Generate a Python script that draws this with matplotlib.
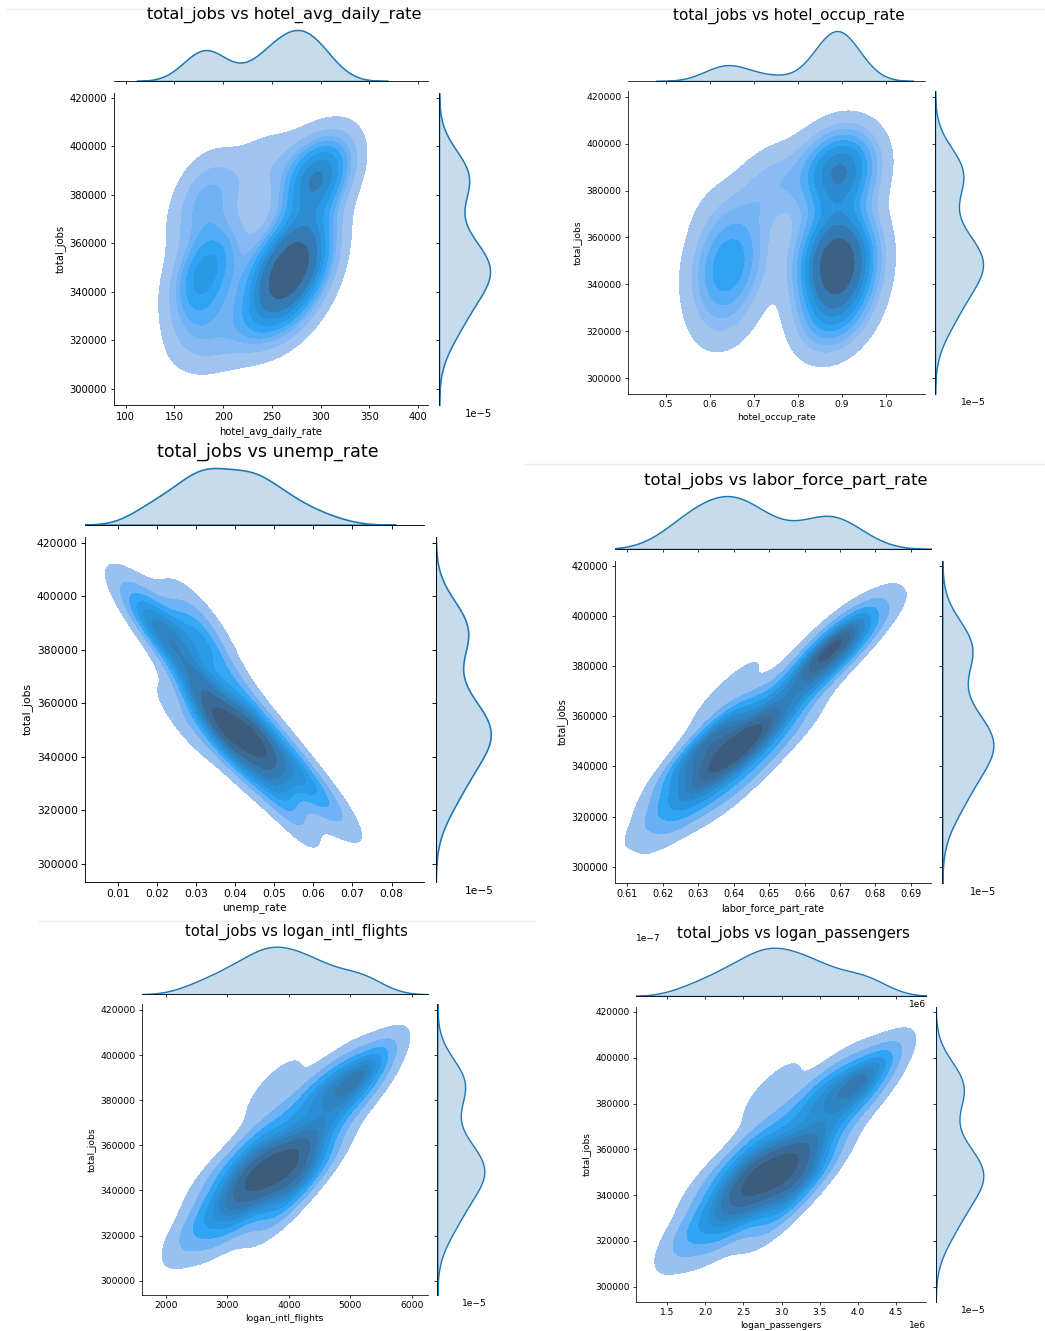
import numpy as np
import pandas as pd
import matplotlib.pyplot as plt
from matplotlib.lines import Line2D
import seaborn as sns

# ================= DATA =================

total_jobs = [320000, 323000, 326000, 329000, 332000, 335000, 337000, 339000, 341000,
              343000, 344000, 346000, 347000, 348000, 349000, 350000, 351000, 352000,
              353000, 354000, 356000, 358000, 360000, 363000, 366000, 370000, 378000,
              381000, 383000, 385000, 386000, 388000, 390000, 392000, 393000, 395000]

hotel_avg_daily_rate = [195, 172, 230, 260, 250, 175, 280, 240, 182,
                        265, 255, 174, 285, 260, 272, 178, 250, 278,
                        186, 288, 262, 270, 200, 292, 278, 172, 190,
                        296, 286, 302, 182, 294, 305, 282, 240, 308]

hotel_occup_rate = [0.87, 0.63, 0.86, 0.89, 0.91, 0.62, 0.89, 0.87, 0.66,
                    0.90, 0.88, 0.64, 0.92, 0.89, 0.87, 0.62, 0.90, 0.88,
                    0.65, 0.91, 0.86, 0.89, 0.67, 0.90, 0.88, 0.63, 0.73,
                    0.90, 0.87, 0.91, 0.75, 0.89, 0.92, 0.86, 0.90, 0.90]

unemp_rate = [0.053, 0.065, 0.059, 0.051, 0.058, 0.044, 0.048, 0.050, 0.038,
              0.054, 0.044, 0.046, 0.039, 0.048, 0.035, 0.041, 0.037, 0.043,
              0.027, 0.044, 0.034, 0.037, 0.030, 0.043, 0.031, 0.032, 0.024,
              0.033, 0.025, 0.028, 0.019, 0.030, 0.023, 0.032, 0.016, 0.018]

labor_force_part_rate = [0.625, 0.620, 0.633, 0.628, 0.642, 0.626, 0.633, 0.625, 0.641,
                         0.639, 0.634, 0.646, 0.631, 0.639, 0.645, 0.630, 0.655, 0.641,
                         0.645, 0.636, 0.653, 0.638, 0.649, 0.646, 0.657, 0.638, 0.668,
                         0.663, 0.667, 0.664, 0.672, 0.667, 0.669, 0.665, 0.677, 0.673]

logan_intl_flights = [2550, 3015, 2450, 3800, 3148, 3562, 3085, 4080, 2975,
                      3705, 3462, 4048, 2800, 4255, 3488, 3963, 3380, 4500,
                      3782, 3905, 3352, 4322, 3793, 4258, 3550, 4650, 4395,
                      5200, 4272, 4752, 3750, 5150, 5000, 4740, 5350, 5250]

logan_passengers = [1850000, 2250000, 1780000, 2900000, 2360000, 2710000, 2310000, 3150000, 2220000,
                    2840000, 2630000, 3130000, 2080000, 3300000, 2650000, 3050000, 2560000, 3500000,
                    2900000, 3000000, 2540000, 3360000, 2910000, 3300000, 2700000, 3640000, 3420000,
                    4100000, 3320000, 3720000, 2870000, 4050000, 3950000, 3710000, 4250000, 4150000]

df = pd.DataFrame({
    "total_jobs": total_jobs,
    "hotel_avg_daily_rate": hotel_avg_daily_rate,
    "hotel_occup_rate": hotel_occup_rate,
    "unemp_rate": unemp_rate,
    "labor_force_part_rate": labor_force_part_rate,
    "logan_intl_flights": logan_intl_flights,
    "logan_passengers": logan_passengers,
})

# ================= LAYOUT (pixels) =================

W, H = 1045, 1331
fig = plt.figure(figsize=(W / 100, H / 100), dpi=100)


def box(left, top, right, bottom):
    return [left / W, 1 - bottom / H, (right - left) / W, (bottom - top) / H]


panels = [
    {"col": "hotel_avg_daily_rate", "joint": (114, 93, 428, 405),
     "marg_x": (27.4, 81), "marg_y": (439, 492.6),
     "xlim": (88, 410), "ylim": (293400, 422000), "xticks": np.arange(100, 401, 50),
     "title": (284, 15, 11.7), "scale": 1.0},
    {"col": "hotel_occup_rate", "joint": (628, 91, 925, 394),
     "marg_x": (28.5, 81), "marg_y": (935, 985.4),
     "xlim": (0.4145, 1.0885), "ylim": (293300, 422400), "xticks": np.arange(0.5, 1.01, 0.1),
     "title": (788.5, 16, 11.0), "scale": 0.92},
    {"col": "unemp_rate", "joint": (85.3, 536.7, 424, 881.7),
     "marg_x": (465.2, 524.7), "marg_y": (435.7, 493.5),
     "xlim": (0.0017, 0.0883), "ylim": (293400, 422240), "xticks": np.arange(0.01, 0.081, 0.01),
     "title": (268, 452, 12.6), "scale": 1.065},
    {"col": "labor_force_part_rate", "joint": (615, 560.7, 930.7, 882.7),
     "marg_x": (493.4, 549), "marg_y": (942.3, 995.9),
     "xlim": (0.6065, 0.6956), "ylim": (293600, 422100), "xticks": np.arange(0.61, 0.6901, 0.01),
     "title": (785.8, 480.7, 11.76), "scale": 0.96},
    {"col": "logan_intl_flights", "joint": (141.7, 1004.3, 427.7, 1295),
     "marg_x": (944.3, 994.3), "marg_y": (437.3, 486.7),
     "xlim": (1604, 6260), "ylim": (293660, 422500), "xticks": np.arange(2000, 6001, 1000),
     "title": (296, 932.3, 10.6), "scale": 0.92},
    {"col": "logan_passengers", "joint": (636, 1006.7, 926, 1301.7),
     "marg_x": (945.3, 996), "marg_y": (935.7, 985.7),
     "xlim": (1.0887e6, 4.898e6), "ylim": (293450, 422300), "xticks": np.arange(1.5e6, 4.51e6, 0.5e6),
     "title": (793, 934, 10.76), "scale": 0.9},
]

BW_JOINT = 0.9
BW_MARG = 0.9

# ================= JOINT KDE PANELS =================

for p in panels:
    s = p["scale"]
    left, top, right, bottom = p["joint"]
    ax = fig.add_axes(box(left, top, right, bottom))
    ax_mx = fig.add_axes(box(left, p["marg_x"][0], right, p["marg_x"][1]), sharex=ax)
    ax_my = fig.add_axes(box(p["marg_y"][0], top, p["marg_y"][1], bottom), sharey=ax)

    sns.kdeplot(data=df, x=p["col"], y="total_jobs", fill=True, bw_adjust=BW_JOINT, ax=ax)
    sns.kdeplot(data=df, x=p["col"], fill=True, bw_adjust=BW_MARG, ax=ax_mx, linewidth=1.1 * s)
    sns.kdeplot(data=df, y="total_jobs", fill=True, bw_adjust=BW_MARG, ax=ax_my, linewidth=1.1 * s)

    ax.set_xlim(p["xlim"])
    ax.set_ylim(p["ylim"])
    ax.set_xticks(p["xticks"])
    ax.set_yticks(np.arange(300000, 420001, 20000))

    fs = 7.2 * s
    ax.set_xlabel(p["col"], fontsize=fs, labelpad=2.9 * s)
    ax.set_ylabel("total_jobs", fontsize=fs, labelpad=2.9 * s)
    ax_mx.set_xlabel("")
    ax_mx.set_ylabel("")
    ax_my.set_xlabel("")
    ax_my.set_ylabel("")

    for a in (ax, ax_mx, ax_my):
        a.tick_params(labelsize=fs, length=2.5 * s, width=0.6 * s, pad=2.5 * s)
        for sp in a.spines.values():
            sp.set_linewidth(0.6 * s)
        a.spines["top"].set_visible(False)
        a.spines["right"].set_visible(False)

    ax_mx.spines["left"].set_visible(False)
    ax_mx.tick_params(left=False, labelleft=False, labelbottom=False)
    ax_my.spines["bottom"].set_visible(False)
    ax_my.tick_params(bottom=False, labelbottom=False, labelleft=False)

    # keep the scale offsets of the density axes
    for t in (ax_mx.xaxis.get_offset_text(), ax_mx.yaxis.get_offset_text(),
              ax_my.xaxis.get_offset_text()):
        t.set_visible(True)
        t.set_fontsize(fs)
    ax.xaxis.get_offset_text().set_fontsize(fs)

    tx, ty, tsize = p["title"]
    fig.text(tx / W, 1 - ty / H, f"total_jobs vs {p['col']}", fontsize=tsize,
             ha="center", va="center")

# thin cell borders
for x0, x1, y in [(7, 525, 9), (525, 1045, 9), (525, 1045, 464), (39, 535, 921)]:
    fig.add_artist(Line2D([x0 / W, x1 / W], [1 - y / H, 1 - y / H], color="#eeeeee", lw=1))

fig.savefig("out.png", dpi=100)
